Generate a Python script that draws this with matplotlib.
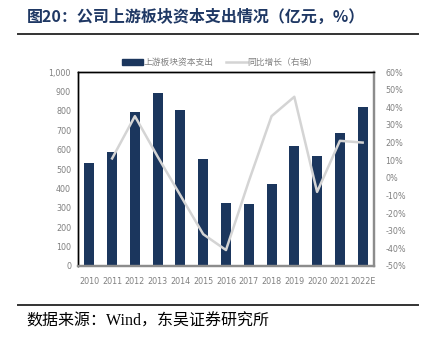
import numpy as np
import matplotlib.pyplot as plt
from matplotlib.lines import Line2D

years = ["2010", "2011", "2012", "2013", "2014", "2015", "2016",
         "2017", "2018", "2019", "2020", "2021", "2022E"]
capex = [530, 590, 795, 890, 805, 550, 325, 320, 423, 619, 567, 686, 820]
growth_years = years[1:]
growth = [11, 35, 12, -10, -32, -41, -2, 35, 46, -8, 21, 20]

bar_color = "#1B365D"
line_color = "#D4D4D4"
tick_color = "#808080"
cjk = ["Noto Sans CJK SC", "DejaVu Sans"]
serif_cjk = ["Liberation Serif", "Noto Sans CJK SC"]

fig = plt.figure(figsize=(4.26, 3.37), dpi=100)
ax = fig.add_axes([0.183, 0.211, 0.695, 0.575])

x = np.arange(len(years))
ax.bar(x, capex, width=0.44, color=bar_color, zorder=2)
ax.set_xlim(-0.5, len(years) - 0.5)
ax.set_ylim(0, 1000)
ax.set_yticks(np.arange(0, 1001, 100))
ax.set_yticklabels([f"{v:,}" for v in range(0, 1001, 100)])
ax.set_xticks(x)
ax.set_xticklabels(years)
ax.tick_params(axis="both", length=0, labelsize=5.8, colors=tick_color, pad=5)
ax.tick_params(axis="x", pad=8)

ax2 = ax.twinx()
ax2.plot(x[1:], growth, color=line_color, lw=1.8, zorder=3)
ax2.set_ylim(-50, 60)
ax2.set_yticks(np.arange(-50, 61, 10))
ax2.set_yticklabels([f"{v}%" for v in range(-50, 61, 10)])
ax2.tick_params(axis="y", length=0, labelsize=5.8, colors=tick_color, pad=8)

for a in (ax, ax2):
    a.spines["top"].set_color("black")
    a.spines["top"].set_linewidth(1.0)
    a.spines["left"].set_color("black")
    a.spines["left"].set_linewidth(1.0)
    a.spines["right"].set_color("#8C8C8C")
    a.spines["right"].set_linewidth(1.6)
    a.spines["bottom"].set_color("#8C8C8C")
    a.spines["bottom"].set_linewidth(1.6)

handles = [plt.Rectangle((0, 0), 1, 1, color=bar_color),
           Line2D([0], [0], color=line_color, lw=1.8)]
leg = fig.legend(handles, ["上游板块资本支出", "同比增长（右轴）"],
                 loc="center", bbox_to_anchor=(0.515, 0.815), ncol=2,
                 frameon=False, prop={"family": cjk, "size": 6.3},
                 handlelength=2.4, handleheight=0.7, columnspacing=1.4,
                 handletextpad=0.05)
for t in leg.get_texts():
    t.set_color(tick_color)

fig.text(0.063, 0.95, "图20：公司上游板块资本支出情况（亿元，%）",
         family=cjk, fontsize=11.5, fontweight="bold", color="#1F3864",
         va="center")
fig.add_artist(Line2D([0.042, 0.982], [0.9, 0.9], color="#333333", lw=1.4))
fig.add_artist(Line2D([0.042, 0.982], [0.095, 0.095], color="#333333", lw=1.4))
fig.text(0.063, 0.045, "数据来源：Wind，东吴证券研究所",
         family=serif_cjk, fontsize=11.5, color="black", va="center")

fig.savefig("out.png", dpi=100)
